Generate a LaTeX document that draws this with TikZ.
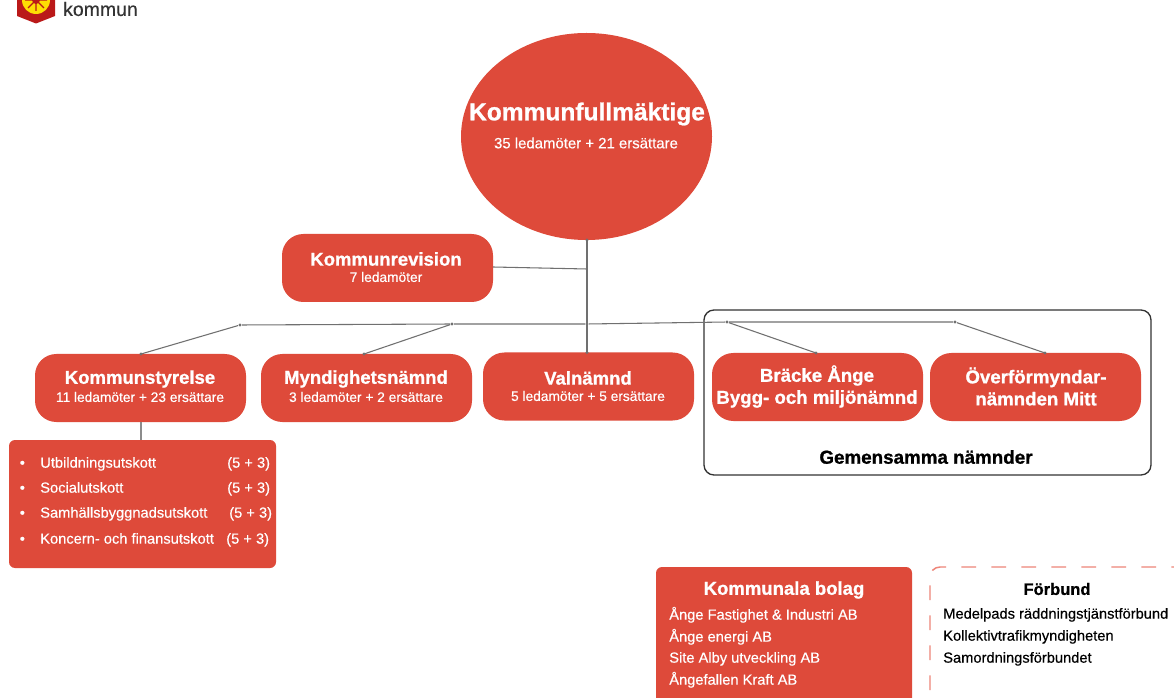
\documentclass[tikz,border=0pt]{standalone}
\usepackage{fontspec}
\setmainfont{Liberation Sans}[BoldFeatures={FakeBold=1}]
\newfontfamily\medfont{Liberation Sans}[FakeBold=0.4]
\usetikzlibrary{shapes.geometric}
\definecolor{angered}{HTML}{DE4A3A}
\definecolor{angedash}{HTML}{EE8579}
\definecolor{lineg}{HTML}{707070}
\tikzset{
  redbox/.style={draw=none,fill=angered,text=white,rounded corners=16pt,align=center,minimum width=158.25pt,minimum height=51pt,inner sep=0pt},
  head/.style={font=\fontsize{13.9pt}{15pt}\selectfont\bfseries},
  sub/.style={font=\fontsize{10.3pt}{11pt}\selectfont\medfont},
  row/.style={anchor=west,inner sep=0pt,text=white,text height=9pt,text depth=2pt,font=\fontsize{11pt}{11pt}\selectfont\medfont},
  blackrow/.style={anchor=west,inner sep=0pt,text=black,text height=9pt,text depth=2pt,font=\fontsize{11pt}{11pt}\selectfont\medfont},
  bus/.style={lineg,line width=0.8pt},
  dotpt/.style={circle,fill=lineg,draw=none,inner sep=0pt,minimum size=2.6pt}
}
\begin{document}
\begin{tikzpicture}[x=0.75pt,y=-0.75pt]
    \path [use as bounding box,clip] (0,0) rectangle (1174,698);
    \fill [white] (0,0) rectangle (1174,698);

    % logo
    \fill [red!70!black!90] (17,-5) -- (17,16) -- (36,23.5) -- (55,16) -- (55,-5) -- cycle;
    \fill [yellow!80!orange] (36,0) circle [radius=14];
    \draw [red!70!black!90,line width=1pt] (36,0) -- (36,11) (36,0) -- (44,8) (36,0) -- (28,8) (36,0) -- (47,0) (36,0) -- (25,0);
    \fill [red!70!black!90] (36,0) circle [radius=4];
    \node [inner sep=0pt,text=black!80,font=\fontsize{14.6pt}{16pt}\selectfont\medfont,name=logotxt] at (100.5,9) {kommun};

    % fullmaktige
    \node [ellipse,fill=angered,draw=none,minimum width=188.25pt,minimum height=155.25pt,inner sep=0pt,name=kf] at (586.5,136.5) {};
    \node [text=white,inner sep=0pt,font=\fontsize{18.4pt}{20pt}\selectfont\bfseries,name=kft] at (587,114) {Kommunfullmäktige};
    \node [text=white,inner sep=0pt,font=\fontsize{11.2pt}{12pt}\selectfont\medfont,name=kfs] at (586,143) {35 ledamöter + 21 ersättare};

    % frame behind the joint boards
    \draw [black!80,line width=1pt,rounded corners=7.5pt] (704,310) rectangle (1151,475);
    \node [inner sep=0pt,text=black,font=\fontsize{14.1pt}{15pt}\selectfont\bfseries,name=gem] at (926,457) {Gemensamma nämnder};

    % boards
    \node [redbox,name=rev] at (387.5,268) {};
    \node [redbox,name=styr] at (140.5,388) {};
    \node [redbox,name=mynd] at (366.5,388) {};
    \node [redbox,name=val] at (588.5,386.5) {};
    \node [redbox,name=bygg] at (817.5,387) {};
    \node [redbox,name=over] at (1035.5,387) {};
    \node [text=white,inner sep=0pt,head,name=revt] at (386,259) {Kommunrevision};
    \node [text=white,inner sep=0pt,sub,name=revs] at (386,277) {7 ledamöter};
    \node [text=white,inner sep=0pt,align=center,font=\fontsize{14pt}{16.5pt}\selectfont\bfseries,name=byggt] at (817,386.5) {Bräcke Ånge\\Bygg- och miljönämnd};
    \node [text=white,inner sep=0pt,align=center,font=\fontsize{14pt}{16.5pt}\selectfont\bfseries,name=overt] at (1036,386.5) {Överförmyndar-\\nämnden Mitt};
    \node [text=white,inner sep=0pt,head,name=styrt] at (140,379) {Kommunstyrelse};
    \node [text=white,inner sep=0pt,sub,name=styrs] at (140,397) {11 ledamöter + 23 ersättare};
    \node [text=white,inner sep=0pt,head,name=myndt] at (366,379) {Myndighetsnämnd};
    \node [text=white,inner sep=0pt,sub,name=mynds] at (366,397) {3 ledamöter + 2 ersättare};
    \node [text=white,inner sep=0pt,head,name=valt] at (588,378) {Valnämnd};
    \node [text=white,inner sep=0pt,sub,name=vals] at (588,396) {5 ledamöter + 5 ersättare};

    % bus
    \node [dotpt,name=d1] at (240,325) {};
    \node [dotpt,name=d2] at (452,324) {};
    \node [dotpt,name=d3] at (587,324) {};
    \node [dotpt,name=d4] at (727,322) {};
    \node [dotpt,name=d5] at (955,322) {};
    \coordinate (kfb) at (587,240);
    \coordinate (revr) at (493,267);
    \coordinate (revm) at (587,269);
    \coordinate (styrtop) at (141,354);
    \coordinate (myndtop) at (364,354);
    \coordinate (valtop) at (587,352.5);
    \coordinate (byggtop) at (816,353);
    \coordinate (overtop) at (1045,353);
    \coordinate (styrb) at (141,422);
    \coordinate (utsk) at (141,440);
    \draw [bus] (kfb) -- (valtop);
    \draw [bus] (revr) -- (revm);
    \draw [bus] (d1) -- (d2) -- (d3) -- (d4) -- (d5);
    \draw [bus] (d1) -- (styrtop);
    \draw [bus] (d2) -- (myndtop);
    \draw [bus] (d4) -- (byggtop);
    \draw [bus] (d5) -- (overtop);
    \draw [bus,black!45] (styrb) -- (utsk);
    \fill [lineg] (kfb) circle [radius=1.6] (styrtop) circle [radius=1.6] (myndtop) circle [radius=1.6] (byggtop) circle [radius=1.6] (overtop) circle [radius=1.6] (valtop) circle [radius=1.6];

    % utskott
    \fill [angered,rounded corners=4.5pt] (9,440) rectangle (276,568);
    \node [row,name=u1] at (19.5,463) {•};
    \node [row,name=u2] at (19.5,488) {•};
    \node [row,name=u3] at (19.5,513) {•};
    \node [row,name=u4] at (19.5,539) {•};
    \node [row,name=ut1] at (40,463) {Utbildningsutskott};
    \node [row,name=ut2] at (40,488) {Socialutskott};
    \node [row,name=ut3] at (40,513) {Samhällsbyggnadsutskott};
    \node [row,name=ut4] at (40,539) {Koncern- och finansutskott};
    \node [row,name=un1] at (227,463) {(5 + 3)};
    \node [row,name=un2] at (227,488) {(5 + 3)};
    \node [row,name=un3] at (229,513) {(5 + 3)};
    \node [row,name=un4] at (226,539) {(5 + 3)};

    % bolag
    \fill [angered,rounded corners=4.5pt] (656,567) rectangle (912,720);
    \node [text=white,inner sep=0pt,font=\fontsize{13.9pt}{15pt}\selectfont\bfseries,name=bolt] at (784,590) {Kommunala bolag};
    \node [row,name=b1] at (669,615) {Ånge Fastighet \& Industri AB};
    \node [row,name=b2] at (669,637) {Ånge energi AB};
    \node [row,name=b3] at (669,658) {Site Alby utveckling AB};
    \node [row,name=b4] at (669,680) {Ångefallen Kraft AB};

    % forbund
    \draw [angedash,line width=1.1pt,rounded corners=7.5pt,dash pattern=on 11pt off 11.5pt] (930,720) -- (930,567) -- (1200,567);
    \node [inner sep=0pt,text=black,font=\fontsize{12.4pt}{15pt}\selectfont\bfseries,name=fort] at (1057,589) {Förbund};
    \node [blackrow,name=f1] at (943,614) {Medelpads räddningstjänstförbund};
    \node [blackrow,name=f2] at (943,636) {Kollektivtrafikmyndigheten};
    \node [blackrow,name=f3] at (943,658) {Samordningsförbundet};
\end{tikzpicture}
\end{document}
